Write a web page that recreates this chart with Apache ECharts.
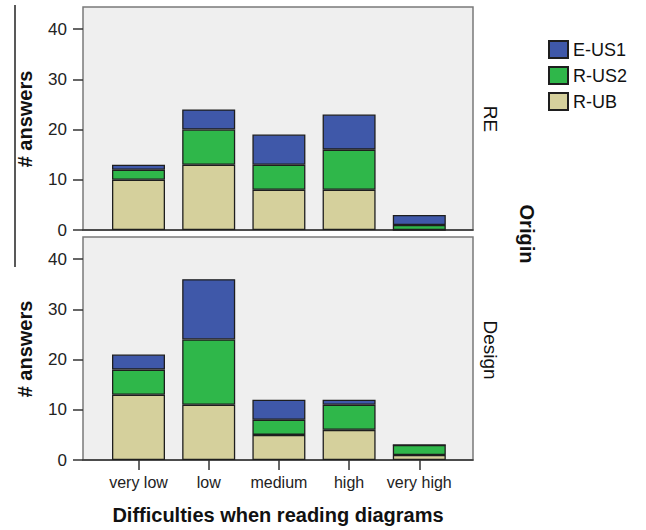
<!DOCTYPE html>
<html>
<head>
<meta charset="utf-8">
<script src="https://cdn.jsdelivr.net/npm/echarts@6/dist/echarts.min.js"></script>
<style>
html,body{margin:0;padding:0;background:#fff;}
#chart{width:646px;height:530px;}
</style>
</head>
<body>
<div id="chart"></div>
<script>
// ---- data ----
const categories = ['very low', 'low', 'medium', 'high', 'very high'];
const seriesNames = ['E-US1', 'R-US2', 'R-UB'];
const panelNames = ['RE', 'Design'];
// RE panel
const reRUB  = [10, 13, 8, 8, 0];
const reRUS2 = [2, 7, 5, 8, 1];
const reEUS1 = [1, 4, 6, 7, 2];
// Design panel
const deRUB  = [13, 11, 5, 6, 1];
const deRUS2 = [5, 13, 3, 5, 2];
const deEUS1 = [3, 12, 4, 1, 0];
const yTicks = [0, 10, 20, 30, 40];
const yMax = 44.4;

const colors = { 'E-US1': '#3f58a9', 'R-US2': '#2fb74a', 'R-UB': '#d5d09c' };
const FONT = '"Liberation Sans", Arial, sans-serif';

const chart = echarts.init(document.getElementById('chart'), null, { renderer: 'svg' });

const panels = [
  { top: 7,   data: { 'R-UB': reRUB, 'R-US2': reRUS2, 'E-US1': reEUS1 }, showX: false },
  { top: 237, data: { 'R-UB': deRUB, 'R-US2': deRUS2, 'E-US1': deEUS1 }, showX: true }
];

const grid = [], xAxis = [], yAxis = [], series = [];
panels.forEach((p, i) => {
  const fg = grid.length;
  grid.push({ left: 83, top: p.top, width: 390, height: 223, show: true,
    backgroundColor: '#efefef', borderColor: '#7a7a7a', borderWidth: 1.5 });
  const dg = grid.length;
  grid.push({ left: 103.4, top: p.top, width: 351, height: 223 });

  // frame axes
  xAxis.push({ gridIndex: fg, type: 'value', min: 0, max: 1,
    axisLine: { show: true, lineStyle: { color: '#333', width: 1.5 } },
    axisTick: { show: false }, axisLabel: { show: false }, splitLine: { show: false } });
  yAxis.push({ gridIndex: fg, type: 'value', min: 0, max: yMax,
    axisLine: { show: false },
    axisTick: { show: true, length: 10, lineStyle: { color: '#333', width: 1.5 }, customValues: yTicks },
    axisLabel: { show: true, fontSize: 17, fontFamily: FONT, color: '#222', margin: 16,
      customValues: yTicks },
    splitLine: { show: false } });

  // data axes
  xAxis.push({ gridIndex: dg, type: 'category', data: categories, boundaryGap: true,
    axisLine: { show: false },
    axisTick: { show: p.showX, alignWithLabel: true, length: 10, lineStyle: { color: '#333', width: 1.5 } },
    axisLabel: { show: p.showX, fontSize: 16, fontFamily: FONT, color: '#222', margin: 14, interval: 0 },
    splitLine: { show: false } });
  yAxis.push({ gridIndex: dg, type: 'value', min: 0, max: yMax, show: false, splitLine: { show: false } });

  ['R-UB', 'R-US2', 'E-US1'].forEach(name => {
    series.push({
      name: name, type: 'bar', xAxisIndex: xAxis.length - 1,
      yAxisIndex: yAxis.length - 1, stack: 'panel' + i, barWidth: 53,
      data: p.data[name],
      itemStyle: { color: colors[name], borderColor: '#1e1e1e', borderWidth: 1.3 },
      emphasis: { disabled: true }
    });
  });
});

const txt = (x, y, text, rot, size, weight) => ({
  type: 'text', x: x, y: y, rotation: rot,
  style: { text: text, x: 0, y: 0, align: 'center', verticalAlign: 'middle',
    textAlign: 'center', textVerticalAlign: 'middle',
    fontSize: size, fontWeight: weight, fontFamily: FONT, fill: '#111' }
});

chart.setOption({
  animation: false,
  backgroundColor: '#fff',
  grid: grid, xAxis: xAxis, yAxis: yAxis, series: series,
  legend: {
    data: seriesNames, orient: 'vertical', left: 548, top: 40, padding: 0,
    itemWidth: 19, itemHeight: 17, itemGap: 7, icon: 'rect',
    textStyle: { fontSize: 18, fontFamily: FONT, color: '#111', padding: [0, 0, 0, 0] },
    selectedMode: false
  },
  graphic: [
    { type: 'line', shape: { x1: 15, y1: 5, x2: 15, y2: 267 }, style: { stroke: '#222', lineWidth: 1.5 } },
    txt(25, 119, '# answers', Math.PI / 2, 20, 'bold'),
    txt(25, 349, '# answers', Math.PI / 2, 20, 'bold'),
    txt(490, 119, panelNames[0], -Math.PI / 2, 19, 'normal'),
    txt(490, 350, panelNames[1], -Math.PI / 2, 19, 'normal'),
    txt(527, 234, 'Origin', -Math.PI / 2, 20, 'bold'),
    txt(278, 515, 'Difficulties when reading diagrams', 0, 20, 'bold')
  ]
});
</script>
</body>
</html>
